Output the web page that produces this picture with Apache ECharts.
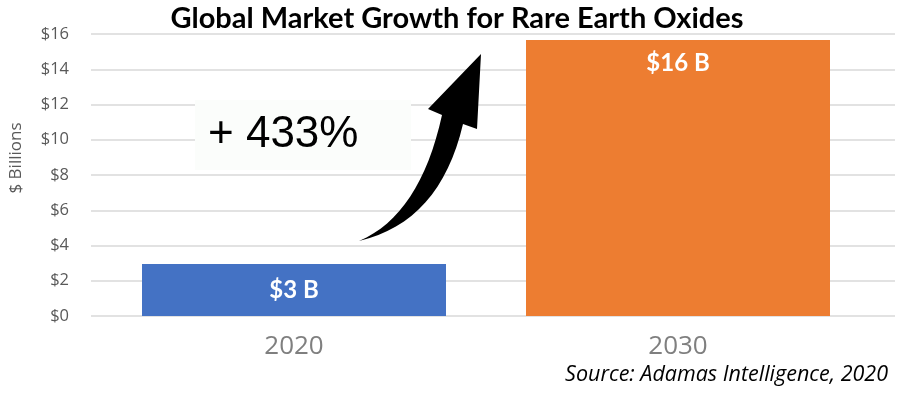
<!DOCTYPE html>
<html><head><meta charset="utf-8">
<script src="https://cdn.jsdelivr.net/npm/echarts@6/dist/echarts.min.js"></script>
<style>html,body{margin:0;padding:0;background:#fff}#c{width:897px;height:393px}</style>
</head><body><div id="c"></div>
<script>
var categories = ['2020', '2030'];
var values = [2.95, 15.66];
var barLabels = ['$3 B', '$16 B'];
var barColors = ['#4472C4', '#ED7D31'];
var yMin = 0, yMax = 16, yStep = 2;
var titleText = 'Global Market Growth for Rare Earth Oxides';
var yName = '$ Billions';
var growthText = '+ 433%';
var sourceText = 'Source: Adamas Intelligence, 2020';

function quad(p0, c, p1, n) {
  var pts = [];
  for (var i = 0; i <= n; i++) {
    var t = i / n, u = 1 - t;
    pts.push([u*u*p0[0] + 2*u*t*c[0] + t*t*p1[0], u*u*p0[1] + 2*u*t*c[1] + t*t*p1[1]]);
  }
  return pts;
}
var arrowPts = quad([359,241],[420,215],[442,115],16)
  .concat([[428,109],[481,54],[477,129]])
  .concat(quad([463,124],[440,222],[359,241],16));

var chart = echarts.init(document.getElementById('c'), null, {renderer: 'canvas'});
chart.setOption({
  animation: false,
  title: {text: titleText, left: 452, textAlign: 'center', top: -1,
    textStyle: {fontFamily: 'Lato', fontWeight: 'bold', fontSize: 29, color: '#000'}},
  grid: [
    {left: 83, right: 2, top: 34, bottom: 77},
    {left: 102, right: 27, top: 34, bottom: 77}
  ],
  xAxis: [
    {gridIndex: 0, type: 'category', data: categories, show: false},
    {gridIndex: 1, type: 'category', data: categories,
      axisLine: {show: false}, axisTick: {show: false},
      axisLabel: {fontSize: 26, color: '#7f7f7f', margin: 18, fontFamily: 'Open Sans'}}
  ],
  yAxis: [
    {gridIndex: 0, type: 'value', min: yMin, max: yMax, interval: yStep,
      name: yName, nameLocation: 'middle', nameGap: 66, nameRotate: 90,
      nameTextStyle: {fontSize: 17, color: '#595959', fontFamily: 'Open Sans', padding: [0, 0, 0, 34]},
      axisLine: {show: false}, axisTick: {show: false},
      axisLabel: {formatter: function (v) { return '$' + v; }, fontSize: 16.5, color: '#595959', margin: 22, fontFamily: 'Open Sans'},
      splitLine: {lineStyle: {color: '#d9d9d9', width: 1.5}}},
    {gridIndex: 1, type: 'value', min: yMin, max: yMax, interval: yStep, show: false, splitLine: {show: false}}
  ],
  series: [{
    type: 'bar', xAxisIndex: 1, yAxisIndex: 1,
    barWidth: 304,
    data: values.map(function (v, i) {
      return {value: v, itemStyle: {color: barColors[i]},
        label: {show: true, formatter: barLabels[i], position: i === 0 ? 'inside' : 'insideTop', distance: 11,
          color: '#fff', fontWeight: 'bold', fontSize: 24, fontFamily: 'Lato'}};
    })
  }],
  graphic: [
    {type: 'rect', shape: {x: 195, y: 100, width: 216, height: 70}, style: {fill: '#fbfdfb'}, z: 10},
    {type: 'text', x: 208, y: 135, z: 11,
      style: {text: growthText, font: '44px "Liberation Sans"', fill: '#000', verticalAlign: 'middle'}},
    {type: 'polygon', z: 12, shape: {points: arrowPts}, style: {fill: '#000'}},
    {type: 'text', right: 9, top: 364, z: 11,
      style: {text: sourceText, font: 'italic 21.5px "Open Sans"', fill: '#000'}}
  ]
});
</script></body></html>
